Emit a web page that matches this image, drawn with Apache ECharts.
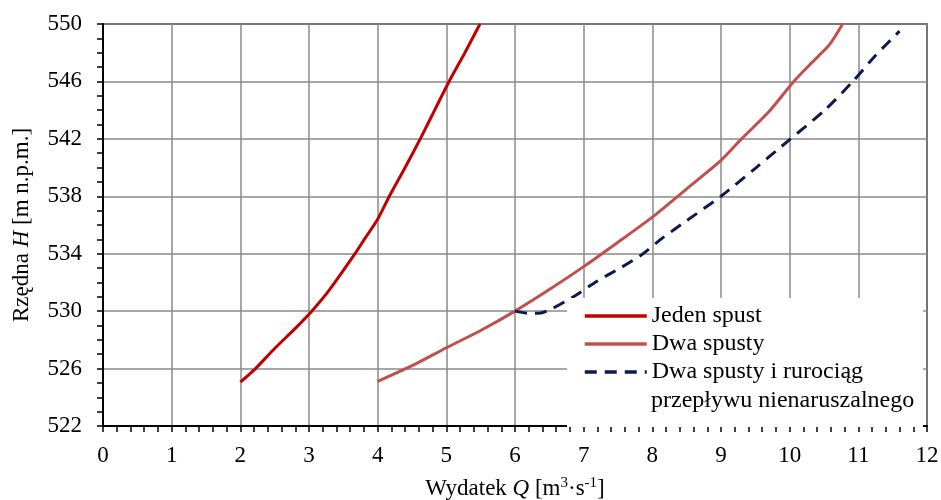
<!DOCTYPE html>
<html><head><meta charset="utf-8">
<script src="https://cdn.jsdelivr.net/npm/echarts@6/dist/echarts.min.js"></script>
<style>html,body{margin:0;padding:0;background:#fff}#c{width:941px;height:500px}</style>
</head><body><div id="c"></div>
<script>
// ---- data ----
const seriesNames = ['Jeden spust', 'Dwa spusty', 'Dwa spusty i rurociąg\nprzepływu nienaruszalnego'];

const jedenQ = [2.0, 2.22, 2.5, 2.8, 3.04, 3.3, 3.67, 3.82, 4.0, 4.17, 4.4, 4.62, 4.83, 5.04, 5.27, 5.49];
const jedenH = [525.05, 526.0, 527.4, 528.8, 530.0, 531.5, 534.0, 535.1, 536.4, 538.0, 540.0, 542.0, 544.0, 546.0, 548.0, 550.0];

const dwaQ = [4.0, 4.5, 5.0, 5.5, 6.0, 6.5, 7.0, 7.5, 8.0, 8.37, 8.7, 9.0, 9.3, 9.7, 10.06, 10.3, 10.57, 10.67, 10.77];
const dwaH = [525.1, 526.2, 527.45, 528.65, 530.0, 531.5, 533.1, 534.8, 536.55, 538.0, 539.3, 540.5, 542.0, 543.9, 546.0, 547.2, 548.5, 549.2, 550.0];

const ruroQ = [6.0, 6.2, 6.35, 6.55, 6.85, 7.2, 7.55, 7.85, 8.15, 8.5, 9.0, 9.5, 10.0, 10.5, 10.92, 11.25, 11.6];
const ruroH = [530.0, 529.85, 529.85, 530.2, 531.0, 532.1, 533.05, 533.95, 535.1, 536.3, 538.0, 539.95, 541.95, 543.95, 546.0, 547.8, 549.5];

const xMin = 0, xMax = 12, xStep = 1;
const yMin = 522, yMax = 550, yStep = 4;

// ---- chart ----
const pairs = (xs, ys) => xs.map((x, i) => [x, ys[i]]);
const FONT = '"Liberation Serif", "Times New Roman", serif';
const chart = echarts.init(document.getElementById('c'), null, {renderer: 'canvas'});

const axisCommon = {
  type: 'value',
  axisLine: {show: true, onZero: false, lineStyle: {color: '#000', width: 2}},
  axisTick: {show: true, inside: false, length: 6, lineStyle: {color: '#000', width: 1.5}},
  minorTick: {show: true, length: 6, lineStyle: {color: '#000', width: 1.5}},
  splitLine: {show: true, lineStyle: {color: '#8a8a8a', width: 1.5}},
  minorSplitLine: {show: false},
  axisLabel: {color: '#000', fontFamily: FONT, fontSize: 23},
  nameLocation: 'middle',
  nameTextStyle: {
    color: '#000', fontFamily: FONT, fontSize: 23,
    rich: {
      a: {color: '#000', fontFamily: FONT, fontSize: 23, lineHeight: 26},
      i: {color: '#000', fontFamily: FONT, fontSize: 23, fontStyle: 'italic', lineHeight: 26},
      s: {color: '#000', fontFamily: FONT, fontSize: 15, lineHeight: 16, verticalAlign: 'top'}
    }
  }
};

const lineSeries = (name, q, h, color, dash) => ({
  name, type: 'line', data: pairs(q, h), showSymbol: false, symbol: 'none', smooth: 0.25,
  lineStyle: {color, width: 3, type: dash || 'solid'}, itemStyle: {color}
});

chart.setOption({
  animation: false,
  backgroundColor: '#fff',
  grid: {left: 103, right: 14, top: 24, bottom: 74, show: true, borderColor: '#000', borderWidth: 1.5,
    backgroundColor: 'transparent', containLabel: false, outerBoundsMode: 'none'},
  xAxis: Object.assign({}, axisCommon, {
    min: xMin, max: xMax, interval: xStep,
    minorTick: Object.assign({}, axisCommon.minorTick, {splitNumber: 5}),
    axisLabel: Object.assign({}, axisCommon.axisLabel, {margin: 18}),
    name: '{a|Wydatek }{i|Q}{a| [m}{s|3}{a|·s}{s|-1}{a|]}',
    nameGap: 50
  }),
  yAxis: Object.assign({}, axisCommon, {
    min: yMin, max: yMax, interval: yStep,
    minorTick: Object.assign({}, axisCommon.minorTick, {splitNumber: 4}),
    axisLabel: Object.assign({}, axisCommon.axisLabel, {margin: 21}),
    name: '{a|Rzędna }{i|H}{a| [m n.p.m.]}',
    nameGap: 68
  }),
  legend: {
    orient: 'vertical',
    left: 567, top: 298,
    padding: [4, 60, 41, 16],
    itemGap: 0,
    itemWidth: 62, itemHeight: 14,
    backgroundColor: '#fff',
    selectedMode: false,
    itemStyle: {opacity: 0, borderWidth: 0},
    lineStyle: {width: 3.5},
    textStyle: {color: '#000', fontFamily: FONT, fontSize: 24, lineHeight: 28},
    formatter: name => name.split('\n')[0],
    data: seriesNames
  },
  graphic: [{
    type: 'text', x: 651, y: 401, z: 100,
    style: {text: seriesNames[2].split('\n')[1], fill: '#000', font: '24px ' + FONT, verticalAlign: 'middle', align: 'left'}
  }],
  series: [
    lineSeries(seriesNames[0], jedenQ, jedenH, '#C00000'),
    lineSeries(seriesNames[1], dwaQ, dwaH, '#C0504D'),
    lineSeries(seriesNames[2], ruroQ, ruroH, '#0C1A4E', [12, 8])
  ]
});
</script>
</body></html>
